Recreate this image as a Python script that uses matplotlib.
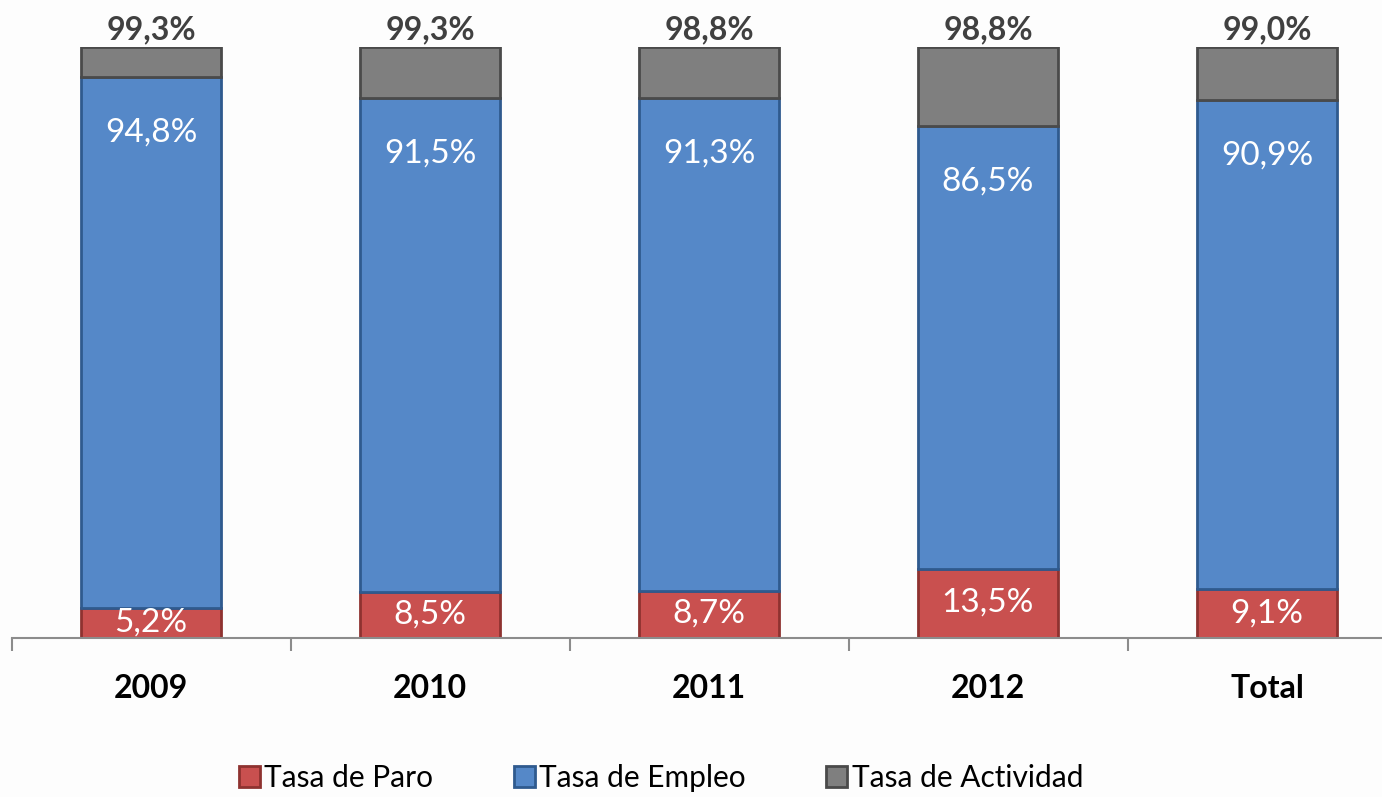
import matplotlib
matplotlib.use('Agg')
import matplotlib.pyplot as plt
import numpy as np

plt.rcParams['font.family'] = ['Lato', 'DejaVu Sans']

# data
years = ['2009', '2010', '2011', '2012', 'Total']
paro = [5.2, 8.5, 8.7, 13.5, 9.1]
empleo = [94.8, 91.5, 91.3, 86.5, 90.9]
actividad = [99.3, 99.3, 98.8, 98.8, 99.0]          # label values shown on top
actividad_seg = [5.4, 9.5, 9.5, 15.6, 9.9]          # grey segment size as drawn

red = '#C9504F'
blue = '#5588C8'
grey = '#7F7F7F'


def fmt(v):
    return f"{v:.1f}%".replace('.', ',')


# 100% stacked: each bar normalised to its own total
p = np.array(paro)
e = np.array(empleo)
g = np.array(actividad_seg)
tot = p + e + g
p_n, e_n, g_n = p / tot * 100, e / tot * 100, g / tot * 100

x = np.arange(len(years))
W, H = 1382, 797
fig = plt.figure(figsize=(W / 100, H / 100), dpi=100)
fig.patch.set_facecolor('#FDFDFD')
ax = fig.add_axes([11.5 / W, 159.5 / H, 1395 / W, 590.8 / H])
ax.set_facecolor('none')

bw = 0.505
b1 = ax.bar(x, p_n, bw, color=red, edgecolor='#8E3230', linewidth=2, label='Tasa de Paro')
b2 = ax.bar(x, e_n, bw, bottom=p_n, color=blue, edgecolor='#2F5A8E', linewidth=2,
            label='Tasa de Empleo')
b3 = ax.bar(x, g_n, bw, bottom=p_n + e_n, color=grey, edgecolor='#4A4A4A', linewidth=2,
            label='Tasa de Actividad')

for i in range(len(years)):
    ax.text(x[i], p_n[i] / 2, fmt(paro[i]), ha='center', va='center',
            color='white', fontsize=24)
    ax.annotate(fmt(empleo[i]), (x[i], p_n[i] + e_n[i]), xytext=(0, -40),
                textcoords='offset points', ha='center', va='center',
                color='white', fontsize=24)
    ax.annotate(fmt(actividad[i]), (x[i], 100), xytext=(0, 12),
                textcoords='offset points', ha='center', va='center',
                color='#404040', fontsize=23, fontweight='bold')

ax.set_xlim(-0.5, len(years) - 0.5)
ax.set_ylim(0, 100)
ax.set_yticks([])
ax.set_xticks(x)
ax.set_xticklabels(years, fontsize=23, fontweight='bold')
ax.set_xticks(np.arange(-0.5, len(years)), minor=True)
ax.tick_params(axis='x', which='major', length=0, pad=26)
ax.tick_params(axis='x', which='minor', length=9, width=1.5, color='#8C8C8C')
for s in ['left', 'top', 'right']:
    ax.spines[s].set_visible(False)
ax.spines['bottom'].set_color('#8C8C8C')
ax.spines['bottom'].set_linewidth(1.5)

fig.legend(handles=[b1, b2, b3], loc='center', bbox_to_anchor=(661 / W, 1 - 778 / H),
           ncol=3, frameon=False, fontsize=21.5, handlelength=0.7, handleheight=0.7,
           handletextpad=0.15, columnspacing=2.7)

fig.savefig('out.png', dpi=100, facecolor=fig.get_facecolor())
